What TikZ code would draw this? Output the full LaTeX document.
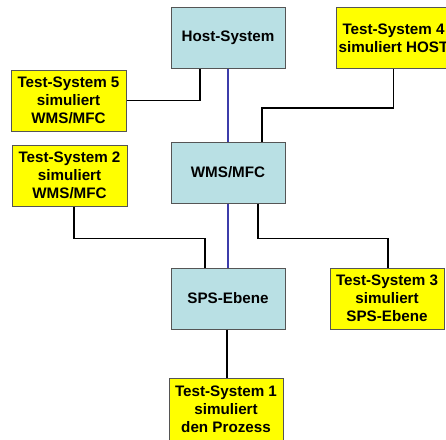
\documentclass[tikz,border=0pt]{standalone}
\usepackage{fontspec}
\setmainfont{Liberation Sans}
\definecolor{boxblue}{HTML}{B9E0E4}
\definecolor{boxyellow}{HTML}{FFFF00}
\definecolor{edgegray}{HTML}{555555}
\definecolor{linkblue}{HTML}{3C3CAA}
\begin{document}
\begin{tikzpicture}[x=1pt,y=-1pt,
  box/.style={draw=edgegray,line width=1pt,minimum width=114pt,minimum height=61pt,inner sep=0pt,align=center,
    font=\fontsize{15.2pt}{18pt}\selectfont\bfseries},
  sysbox/.style={box,fill=boxblue},
  testbox/.style={box,fill=boxyellow},
  link/.style={draw=black,line width=1.6pt},
  bluelink/.style={draw=linkblue,line width=1.7pt}]
\useasboundingbox (0,0) rectangle (446,439);
\fill[white] (0,0) rectangle (446,439);
\node[sysbox] (host) at (228,37.5) {Host-System};
\node[sysbox] (wms) at (228,172.5) {WMS/MFC};
\node[sysbox] (sps) at (228,298.5) {SPS-Ebene};
\node[testbox,minimum width=115pt] (ts4) at (393.5,38) {Test-System 4\\simuliert HOST};
\node[testbox,minimum width=115pt] (ts5) at (68.5,100.5) {Test-System 5\\simuliert\\WMS/MFC};
\node[testbox,minimum width=115pt] (ts2) at (69.5,175.5) {Test-System 2\\simuliert\\WMS/MFC};
\node[testbox] (ts3) at (387,298.5) {Test-System 3\\simuliert\\SPS-Ebene};
\node[testbox,minimum height=62pt] (ts1) at (226,409) {Test-System 1\\simuliert\\den Prozess};
\draw[bluelink] (host.south) -- (wms.north);
\draw[bluelink] (wms.south) -- (sps.north);
\draw[link] (ts5.east) -| ([xshift=-28pt]host.south);
\draw[link] (ts4.south) -- ++(0,39) -| ([xshift=34pt]wms.north);
\draw[link] ([xshift=4.5pt]ts2.south) -- ++(0,32) -| ([xshift=-23pt]sps.north);
\draw[link] ([xshift=30pt]wms.south) -- ++(0,35) -| ([xshift=1pt]ts3.north);
\draw[link] ([xshift=-1pt]sps.south) -- ([xshift=-1pt]sps.south |- ts1.north);
\end{tikzpicture}
\end{document}
